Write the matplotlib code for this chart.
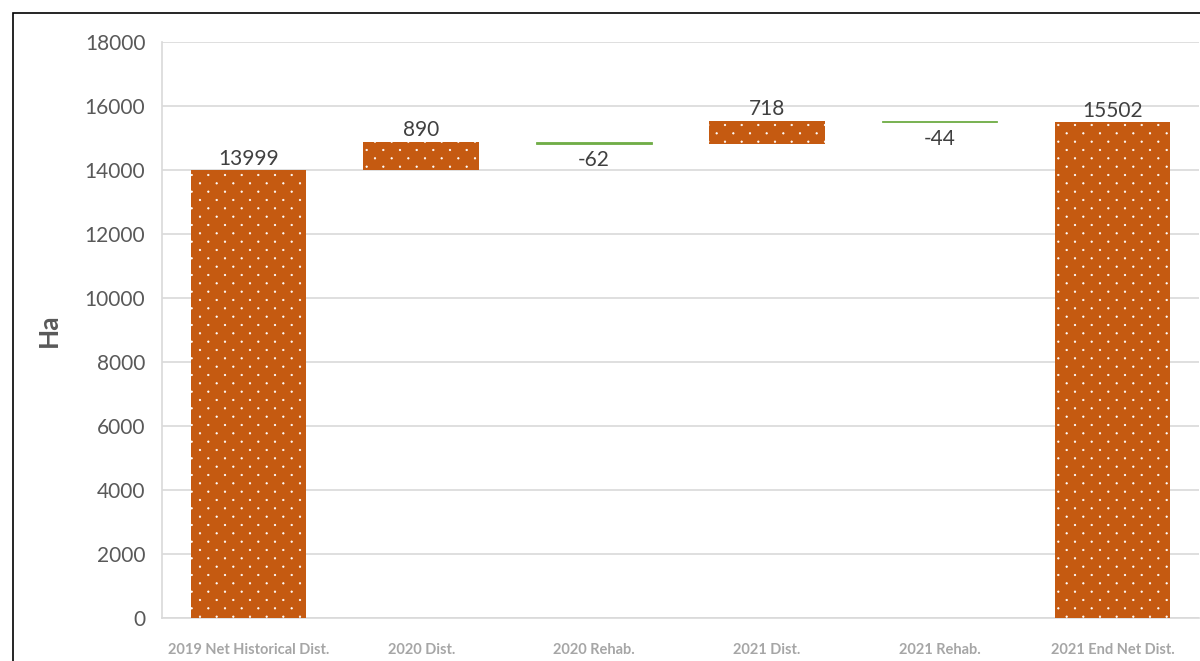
import numpy as np
import matplotlib
matplotlib.use("Agg")
import matplotlib.pyplot as plt
import matplotlib.hatch as mhatch
from matplotlib.path import Path
from matplotlib.patches import Rectangle

# ---- data -------------------------------------------------------------
categories = ["2019 Net Historical Dist.", "2020 Dist.", "2020 Rehab.",
              "2021 Dist.", "2021 Rehab.", "2021 End Net Dist."]
changes = [13999, 890, -62, 718, -44, 15502]
is_total = [True, False, False, False, False, True]
y_ticks = [0, 2000, 4000, 6000, 8000, 10000, 12000, 14000, 16000, 18000]

ORANGE = "#C55A11"
GREEN = "#70AD47"
TEXT = "#595959"


# ---- staggered dot hatch (dots every 1/6 unit across, rows every 1/12) --
class StaggeredDots(mhatch.HatchPatternBase):
    radius = 0.0075

    def __init__(self, hatch, density):
        n = hatch.count('.')
        self.cols = n * density
        self.rows = 2 * self.cols
        circle = Path.unit_circle()
        self.shape_vertices = circle.vertices * self.radius
        self.shape_codes = circle.codes
        if n == 0:
            self.num_shapes = 0
        else:
            self.num_shapes = ((self.rows // 2 + 1) * (self.cols + 1)
                               + (self.rows // 2) * self.cols)
        self.num_vertices = self.num_shapes * len(self.shape_vertices)

    def set_vertices_and_codes(self, vertices, codes):
        nv = len(self.shape_vertices)
        cursor = 0
        for row in range(self.rows + 1):
            y = row / self.rows
            if row % 2 == 0:
                xs = np.linspace(0, 1, self.cols + 1)
            else:
                xs = np.linspace(0.5 / self.cols, 1 - 0.5 / self.cols, self.cols)
            for x in xs:
                vertices[cursor:cursor + nv] = self.shape_vertices + (x, y)
                codes[cursor:cursor + nv] = self.shape_codes
                cursor += nv


mhatch._hatch_types = [StaggeredDots if t is mhatch.SmallFilledCircles else t
                       for t in mhatch._hatch_types]

plt.rcParams['font.family'] = ['Lato', 'DejaVu Sans']
plt.rcParams['hatch.linewidth'] = 0.5

# ---- waterfall geometry ----------------------------------------------------
bottoms, heights = [], []
running = 0
for val, tot in zip(changes, is_total):
    if tot:
        bottoms.append(0)
        heights.append(val)
        running = val
    else:
        bottoms.append(running if val >= 0 else running + val)
        heights.append(abs(val))
        running += val

x = np.arange(len(categories))
rising = [t or v >= 0 for v, t in zip(changes, is_total)]

fig = plt.figure(figsize=(12, 6.61), dpi=100)
ax = fig.add_axes([0.135, 0.065, 0.864, 0.8715])

xs_up = [xi for xi, r in zip(x, rising) if r]
xs_dn = [xi for xi, r in zip(x, rising) if not r]
ax.bar(xs_up, [h for h, r in zip(heights, rising) if r],
       bottom=[b for b, r in zip(bottoms, rising) if r], width=0.67,
       color=ORANGE, edgecolor="white", linewidth=0, hatch=".", zorder=3)
ax.bar(xs_dn, [h for h, r in zip(heights, rising) if not r],
       bottom=[b for b, r in zip(bottoms, rising) if not r], width=0.67,
       color=GREEN, edgecolor=GREEN, linewidth=0.6, zorder=3)

for xi, val, b, h in zip(x, changes, bottoms, heights):
    if val >= 0:
        ax.annotate(f"{val}", (xi, b + h), xytext=(0, 1), textcoords="offset points",
                    ha="center", va="bottom", fontsize=15, color="#404040")
    else:
        ax.annotate(f"{val}", (xi, b), xytext=(0, -5), textcoords="offset points",
                    ha="center", va="top", fontsize=15, color="#404040")

ax.set_xlim(-0.5, len(categories) - 0.5)
ax.set_ylim(0, 18000)
ax.set_yticks(y_ticks)
ax.set_yticklabels([str(t) for t in y_ticks], fontsize=15, color=TEXT)
ax.set_xticks(x)
ax.set_xticklabels(categories, fontsize=10.5, fontweight="bold", color="#A6A6A6")
ax.tick_params(axis="y", length=0, pad=12)
ax.tick_params(axis="x", length=0, pad=18)

ax.grid(axis="y", color="#D9D9D9", linewidth=1.2, zorder=0)
ax.set_axisbelow(True)
for side in ("top", "right"):
    ax.spines[side].set_visible(False)
for side in ("left", "bottom"):
    ax.spines[side].set_color("#D9D9D9")
    ax.spines[side].set_linewidth(1.2)

ax.set_ylabel("Ha", fontsize=19, fontweight="bold", color=TEXT, labelpad=17)

# outer frame
fig.patches.append(Rectangle((13 / 1200, -0.5), 2, 0.9803 + 0.5,
                             transform=fig.transFigure, fill=False,
                             edgecolor="black", linewidth=1.2))

fig.savefig("out.png", dpi=100)
